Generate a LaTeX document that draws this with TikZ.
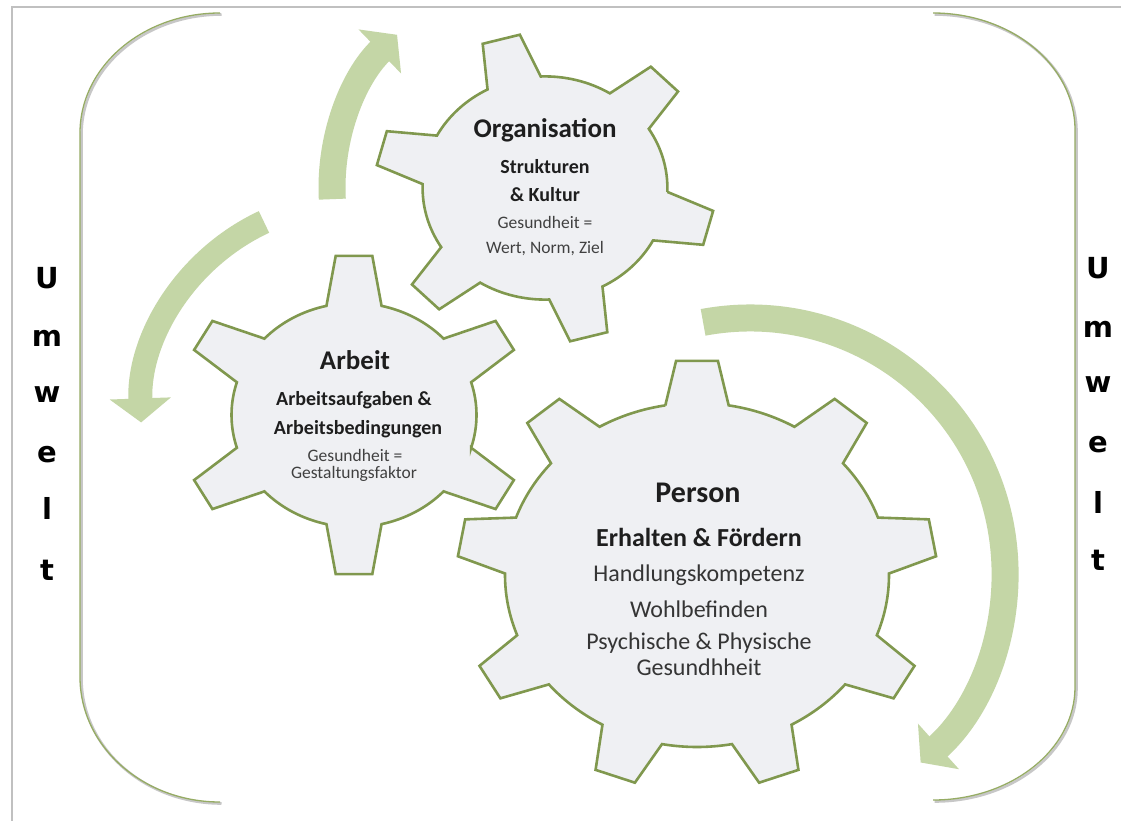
\documentclass[tikz,border=0pt]{standalone}
\usepackage{fontspec}
\setmainfont{Carlito}
\newfontfamily\umweltfont{DejaVu Sans}
\usetikzlibrary{arrows.meta}

\definecolor{gearline}{RGB}{128,152,78}
\definecolor{gearfill}{RGB}{239,240,243}
\definecolor{flow}{RGB}{196,214,166}
\definecolor{bracketline}{RGB}{150,172,100}
\definecolor{framegray}{RGB}{192,192,192}
\definecolor{ink}{RGB}{30,30,30}
\definecolor{softink}{RGB}{64,64,64}

\tikzset{
  gearstyle/.style={draw=gearline, fill=gearfill, line width=2.6pt, line join=miter},
  flowarrow/.style={draw=flow, line width=#1, -{Triangle[width=60pt,length=24pt]}},
  bracketshadow/.style={draw=black!22, line width=2.6pt},
  bracketstyle/.style={draw=bracketline, line width=1.3pt},
  title/.style={font=\bfseries\fontsize{27}{30}\selectfont, text=ink, inner sep=0pt},
  subtitle/.style={font=\bfseries\fontsize{20}{23}\selectfont, text=ink, inner sep=0pt},
  smalltext/.style={font=\fontsize{17.5}{20}\selectfont, text=softink, inner sep=0pt},
  bigtitle/.style={font=\bfseries\fontsize{30}{33}\selectfont, text=ink, inner sep=0pt},
  bigsub/.style={font=\bfseries\fontsize{26}{29}\selectfont, text=ink, inner sep=0pt},
  bigtext/.style={font=\fontsize{24}{27}\selectfont, text=ink!90, inner sep=0pt},
  letter/.style={font=\umweltfont\bfseries\fontsize{29}{32}\selectfont, text=black, inner sep=0pt},
}

% gear: centre x, centre y, x radius, y radius, teeth, angle of first tooth,
% root radius (fraction), half angle at tip, half angle at root
\newcommand{\gear}[9]{%
  \pgfmathsetmacro\gstep{360/#5}%
  \pgfmathtruncatemacro\glast{#5-1}%
  \begin{scope}[shift={(#1,#2)},xscale=#3,yscale=#4]
    \path[gearstyle] ({#6-#9}:#7)
      \foreach \k in {0,...,\glast}{
        -- ({#6+\k*\gstep-#8}:1) -- ({#6+\k*\gstep+#8}:1)
        -- ({#6+\k*\gstep+#9}:#7)
        arc[start angle={#6+\k*\gstep+#9}, end angle={#6+(\k+1)*\gstep-#9}, radius=#7]
      } -- cycle;
  \end{scope}}

\begin{document}
\begin{tikzpicture}[x=1pt,y=-1pt]
  \fill[white] (0,0) rectangle (1121,821);
  \useasboundingbox (0,0) rectangle (1121,821);

  % outer frame
  \draw[framegray, line width=2pt] (12,821) -- (12,7) -- (1121,7);

  % environment brackets with a soft shadow
  \begin{scope}[shift={(1.5,1.5)}]
    \draw[bracketshadow] (220,13) arc[start angle=-90, end angle=-180, x radius=140, y radius=120]
      -- (80,677) arc[start angle=180, end angle=90, x radius=140, y radius=125];
    \draw[bracketshadow] (933,13) arc[start angle=-90, end angle=0, x radius=142, y radius=117]
      -- (1075,687) arc[start angle=0, end angle=90, x radius=142, y radius=113];
  \end{scope}
  \draw[bracketstyle] (220,13) arc[start angle=-90, end angle=-180, x radius=140, y radius=120]
    -- (80,677) arc[start angle=180, end angle=90, x radius=140, y radius=125];
  \draw[bracketstyle] (933,13) arc[start angle=-90, end angle=0, x radius=142, y radius=117]
    -- (1075,687) arc[start angle=0, end angle=90, x radius=142, y radius=113];

  % Umwelt, left and right
  \node[letter] (lU) at (47,278) {U};
  \node[letter] (lm) at (47,338) {m};
  \node[letter] (lw) at (47,395) {w};
  \node[letter] (le) at (47,455) {e};
  \node[letter] (ll) at (47,508) {l};
  \node[letter] (lt) at (47,570) {t};
  \node[letter] (rU) at (1098,268) {U};
  \node[letter] (rm) at (1098,329) {m};
  \node[letter] (rw) at (1098,385) {w};
  \node[letter] (re) at (1098,445) {e};
  \node[letter] (rl) at (1098,502) {l};
  \node[letter] (rt) at (1098,560) {t};

  % rotation arrows
  \coordinate (orgc) at (545,188);
  \coordinate (arbc) at (354,415);
  \coordinate (perc) at (750,573);
  \draw[flowarrow=27pt] ([shift={(-183:213)}]orgc) arc[start angle=-183, end angle=-134, radius=213];
  \draw[flowarrow=24pt] ([shift={(-115:213)}]arbc) arc[start angle=-115, end angle=-182, radius=213];
  \draw[flowarrow=27pt] ([shift={(-100.6:255)}]perc) arc[start angle=-100.6, end angle=48, radius=255];

  % gears
  \gear{545}{188}{170}{155}{6}{15}{0.72}{6.5}{13}
  \gear{354}{415}{175}{160}{6}{30}{0.70}{6}{13}
  \gear{697}{575}{240}{215}{9}{-90}{0.80}{5}{9.5}

  % Organisation
  \node[title] (org) at (545,130) {Organisation};
  \node[subtitle] (org1) at (545,167) {Strukturen};
  \node[subtitle] (org2) at (545,195) {\& Kultur};
  \node[smalltext] (org3) at (545,222) {Gesundheit =};
  \node[smalltext] (org4) at (545,249) {Wert, Norm, Ziel};

  % Arbeit
  \node[title] (arb) at (355,360) {Arbeit};
  \node[subtitle] (arb1) at (354,400) {Arbeitsaufgaben \&};
  \node[subtitle] (arb2) at (358,429) {Arbeitsbedingungen};
  \node[smalltext] (arb3) at (355,455) {Gesundheit =};
  \node[smalltext] (arb4) at (354,474) {Gestaltungsfaktor};

  % Person
  \node[bigtitle] (per) at (698,493) {Person};
  \node[bigsub] (per1) at (699,537) {Erhalten \& Fördern};
  \node[bigtext] (per2) at (699,575) {Handlungskompetenz};
  \node[bigtext] (per3) at (699,609) {Wohlbefinden};
  \node[bigtext] (per4) at (699,643) {Psychische \& Physische};
  \node[bigtext] (per5) at (699,667) {Gesundhheit};
\end{tikzpicture}
\end{document}
